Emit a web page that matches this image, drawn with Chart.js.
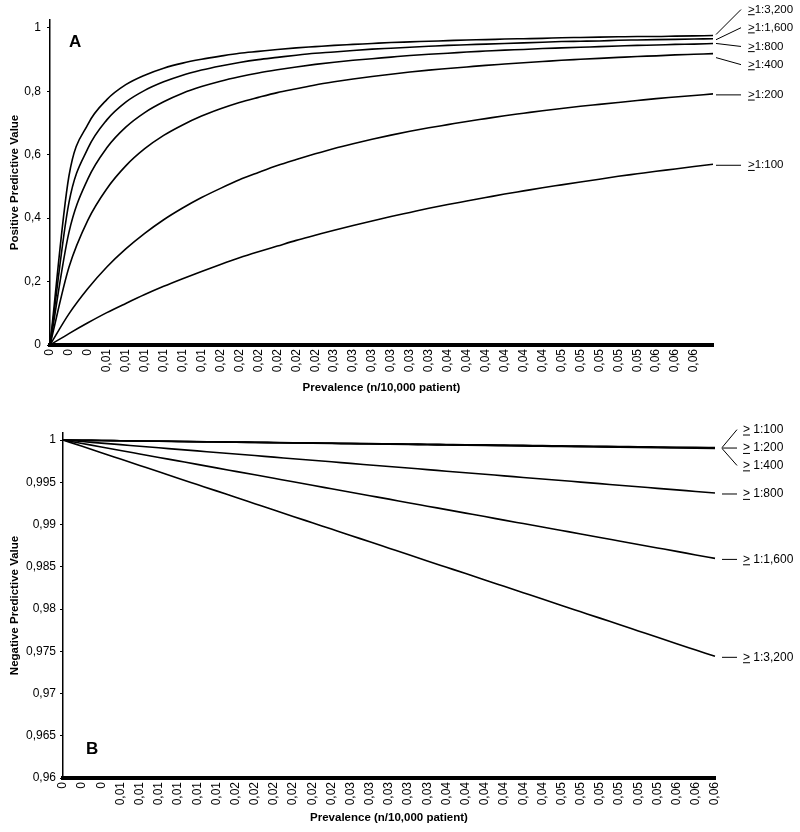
<!DOCTYPE html>
<html>
<head>
<meta charset="utf-8">
<script src="https://cdn.jsdelivr.net/npm/chart.js@4.4.1/dist/chart.umd.min.js"></script>
<style>
  body { margin: 0; background: #fff; }
  canvas { position: absolute; left: 0; }
  #chartA { top: 0; }
  #chartB { top: 400px; }
</style>
</head>
<body>
<canvas id="chartA" width="800" height="400"></canvas>
<canvas id="chartB" width="800" height="432"></canvas>
<script>
// prevalence categories, as printed under each axis
const prevLabelsA = ['0','0','0','0,01','0,01','0,01','0,01','0,01','0,01','0,02','0,02','0,02','0,02','0,02','0,02',
  '0,03','0,03','0,03','0,03','0,03','0,03','0,04','0,04','0,04','0,04','0,04','0,04','0,05','0,05','0,05','0,05','0,05',
  '0,06','0,06','0,06',''];
const prevLabelsB = ['0','0','0','0,01','0,01','0,01','0,01','0,01','0,01','0,02','0,02','0,02','0,02','0,02','0,02',
  '0,03','0,03','0,03','0,03','0,03','0,04','0,04','0,04','0,04','0,04','0,04','0,05','0,05','0,05','0,05','0,05','0,05',
  '0,06','0,06','0,06'];

const ppvTicks = [0, 0.2, 0.4, 0.6, 0.8, 1];
const npvTicks = [0.96, 0.965, 0.97, 0.975, 0.98, 0.985, 0.99, 0.995, 1];

const ppvNames = ['≥1:3,200', '≥1:1,600', '≥1:800', '≥1:400', '≥1:200', '≥1:100'];
const npvNames = ['≥ 1:100', '≥ 1:200', '≥ 1:400', '≥ 1:800', '≥ 1:1,600', '≥ 1:3,200'];

// A: positive predictive value
const ppv3200 = [0, 0.533, 0.696, 0.774, 0.821, 0.851, 0.873, 0.889, 0.901, 0.911, 0.920, 0.926, 0.932, 0.937, 0.941, 0.945, 0.948, 0.951,
  0.954, 0.956, 0.958, 0.960, 0.962, 0.963, 0.965, 0.966, 0.967, 0.969, 0.970, 0.971, 0.972, 0.973, 0.973, 0.974, 0.975, 0.976];
const ppv1600 = [0, 0.449, 0.620, 0.710, 0.766, 0.803, 0.830, 0.851, 0.867, 0.880, 0.891, 0.900, 0.907, 0.914, 0.920, 0.924, 0.929, 0.933,
  0.936, 0.939, 0.942, 0.945, 0.947, 0.949, 0.951, 0.953, 0.955, 0.957, 0.958, 0.959, 0.961, 0.962, 0.963, 0.964, 0.965, 0.966];
const ppv800 = [0, 0.355, 0.524, 0.622, 0.687, 0.733, 0.767, 0.794, 0.815, 0.832, 0.846, 0.858, 0.868, 0.877, 0.885, 0.892, 0.898, 0.903,
  0.908, 0.913, 0.917, 0.920, 0.924, 0.927, 0.930, 0.932, 0.935, 0.937, 0.939, 0.941, 0.943, 0.945, 0.946, 0.948, 0.949, 0.951];
const ppv400 = [0, 0.245, 0.394, 0.493, 0.565, 0.619, 0.661, 0.694, 0.722, 0.745, 0.765, 0.781, 0.796, 0.808, 0.820, 0.830, 0.839, 0.847,
  0.854, 0.861, 0.867, 0.872, 0.877, 0.882, 0.886, 0.890, 0.894, 0.898, 0.901, 0.904, 0.907, 0.910, 0.912, 0.915, 0.917, 0.919];
const ppv200 = [0, 0.098, 0.178, 0.246, 0.303, 0.352, 0.395, 0.432, 0.465, 0.494, 0.521, 0.544, 0.566, 0.585, 0.603, 0.620, 0.635, 0.649,
  0.662, 0.674, 0.685, 0.695, 0.705, 0.714, 0.723, 0.731, 0.739, 0.746, 0.753, 0.759, 0.765, 0.771, 0.777, 0.782, 0.787, 0.792];
const ppv100 = [0, 0.036, 0.070, 0.102, 0.131, 0.159, 0.185, 0.209, 0.232, 0.254, 0.275, 0.294, 0.312, 0.330, 0.346, 0.362, 0.377, 0.391,
  0.405, 0.418, 0.431, 0.443, 0.454, 0.465, 0.476, 0.486, 0.496, 0.505, 0.514, 0.523, 0.532, 0.540, 0.548, 0.555, 0.563, 0.570];

// B: negative predictive value
const npv100 = [1, 0.99997, 0.99995, 0.99992, 0.99989, 0.99987, 0.99984, 0.99981, 0.99979, 0.99976, 0.99974, 0.99971, 0.99968, 0.99966,
  0.99963, 0.99960, 0.99958, 0.99955, 0.99952, 0.99950, 0.99947, 0.99944, 0.99942, 0.99939, 0.99936, 0.99934, 0.99931, 0.99929,
  0.99926, 0.99923, 0.99921, 0.99918, 0.99915, 0.99913, 0.99910];
const npv200 = [1, 0.99997, 0.99994, 0.99992, 0.99989, 0.99986, 0.99983, 0.99980, 0.99978, 0.99975, 0.99972, 0.99969, 0.99966, 0.99964,
  0.99961, 0.99958, 0.99955, 0.99953, 0.99950, 0.99947, 0.99944, 0.99941, 0.99939, 0.99936, 0.99933, 0.99930, 0.99927, 0.99925,
  0.99922, 0.99919, 0.99916, 0.99914, 0.99911, 0.99908, 0.99905];
const npv400 = [1, 0.99997, 0.99994, 0.99991, 0.99988, 0.99985, 0.99982, 0.99979, 0.99976, 0.99974, 0.99971, 0.99968, 0.99965, 0.99962,
  0.99959, 0.99956, 0.99953, 0.99950, 0.99947, 0.99944, 0.99941, 0.99938, 0.99935, 0.99932, 0.99929, 0.99926, 0.99924, 0.99921,
  0.99918, 0.99915, 0.99912, 0.99909, 0.99906, 0.99903, 0.99900];
const npv800 = [1, 0.99982, 0.99963, 0.99945, 0.99926, 0.99908, 0.99889, 0.99871, 0.99852, 0.99834, 0.99816, 0.99797, 0.99779, 0.99760,
  0.99742, 0.99723, 0.99705, 0.99687, 0.99668, 0.99650, 0.99631, 0.99613, 0.99594, 0.99576, 0.99557, 0.99539, 0.99521, 0.99502,
  0.99484, 0.99465, 0.99447, 0.99428, 0.99410, 0.99391, 0.99373];
const npv1600 = [1, 0.99959, 0.99918, 0.99876, 0.99835, 0.99794, 0.99753, 0.99712, 0.99670, 0.99629, 0.99588, 0.99547, 0.99506, 0.99464,
  0.99423, 0.99382, 0.99341, 0.99300, 0.99258, 0.99217, 0.99176, 0.99135, 0.99094, 0.99052, 0.99011, 0.98970, 0.98929, 0.98888,
  0.98846, 0.98805, 0.98764, 0.98723, 0.98682, 0.98640, 0.98599];
const npv3200 = [1, 0.99925, 0.99849, 0.99774, 0.99699, 0.99624, 0.99548, 0.99473, 0.99398, 0.99322, 0.99247, 0.99172, 0.99096, 0.99021,
  0.98946, 0.98871, 0.98795, 0.98720, 0.98645, 0.98569, 0.98494, 0.98419, 0.98343, 0.98268, 0.98193, 0.98118, 0.98042, 0.97967,
  0.97892, 0.97816, 0.97741, 0.97666, 0.97590, 0.97515, 0.97440];

const FONT = 'Liberation Sans, Arial, sans-serif';
const comma = v => String(v).replace('.', ',');

// leader line + label at the right end of each curve; ">" underlined stands for the ≥ sign.
// settings kept in a closure so Chart.js doesn't proxy them
function endLabels(set) {
  return {
    id: 'endLabels',
    afterDatasetsDraw(chart) {
      const ctx = chart.ctx;
      ctx.save();
      ctx.strokeStyle = '#000';
      ctx.fillStyle = '#000';
      ctx.lineWidth = 1;
      ctx.font = set.size + 'px ' + FONT;
      ctx.textBaseline = 'middle';
      set.items.forEach((it, i) => {
        const pts = chart.getDatasetMeta(i).data;
        const end = pts[pts.length - 1];
        const ty = end.y + it.dy;
        const x0 = end.x + set.gap;
        const y0 = it.flat ? ty : end.y + (it.sdy || 0);
        ctx.beginPath();
        ctx.moveTo(x0, y0);
        ctx.lineTo(x0 + set.len, ty);
        ctx.stroke();
        const tx = x0 + set.len + set.textGap;
        const rest = chart.data.datasets[i].label.replace('≥', '');
        ctx.fillText('>', tx, ty);
        const w = ctx.measureText('>').width;
        ctx.beginPath();
        ctx.moveTo(tx, ty + set.size * 0.45);
        ctx.lineTo(tx + w, ty + set.size * 0.45);
        ctx.stroke();
        ctx.fillText(rest, tx + w, ty);
      });
      ctx.restore();
    }
  };
}

function panelLetter(text, dx, dy) {
  return {
    id: 'panelLetter',
    afterDraw(chart) {
      const ctx = chart.ctx;
      ctx.save();
      ctx.fillStyle = '#000';
      ctx.font = 'bold 17px ' + FONT;
      ctx.fillText(text, chart.chartArea.left + dx, chart.chartArea.top + dy);
      ctx.restore();
    }
  };
}

function lineSet(label, data) {
  return { label, data, borderColor: '#000', borderWidth: 1.6, pointRadius: 0, fill: false, cubicInterpolationMode: 'monotone' };
}

function makeChart(id, cfg) {
  return new Chart(document.getElementById(id), {
    type: 'line',
    data: { labels: cfg.labels, datasets: cfg.datasets },
    options: {
      responsive: false,
      animation: false,
      layout: { padding: cfg.padding },
      plugins: {
        legend: { display: false },
        tooltip: { enabled: false }
      },
      scales: {
        x: {
          offset: false,
          afterFit: s => { s.height = cfg.xHeight; },
          grid: { drawOnChartArea: false, drawTicks: false },
          border: { color: '#000', width: 4 },
          ticks: { autoSkip: false, maxRotation: 90, minRotation: 90, padding: 4, color: '#000', font: { family: FONT, size: 12 } },
          title: { display: true, text: 'Prevalence (n/10,000 patient)', color: '#000',
            font: { family: FONT, size: 11.5, weight: 'bold' }, padding: cfg.xTitlePad }
        },
        y: {
          min: cfg.yMin, max: cfg.yMax,
          afterBuildTicks: s => { s.ticks = cfg.yTicks.map(v => ({ value: v })); },
          afterFit: s => { s.width = cfg.yWidth; },
          grid: { drawOnChartArea: false, tickLength: 3, tickColor: '#000' },
          border: { color: '#000', width: 1.5 },
          ticks: { padding: cfg.yTickPad, color: '#000', font: { family: FONT, size: 12 }, callback: comma },
          title: { display: true, text: cfg.yTitle, color: '#000',
            font: { family: FONT, size: 11.5, weight: 'bold' }, padding: { top: 8, bottom: 0 } }
        }
      }
    },
    plugins: [endLabels(cfg.endLabels), panelLetter(cfg.letter.text, cfg.letter.dx, cfg.letter.dy)]
  });
}

makeChart('chartA', {
  labels: prevLabelsA,
  datasets: [
    lineSet(ppvNames[0], ppv3200), lineSet(ppvNames[1], ppv1600), lineSet(ppvNames[2], ppv800),
    lineSet(ppvNames[3], ppv400), lineSet(ppvNames[4], ppv200), lineSet(ppvNames[5], ppv100)
  ],
  padding: { top: 20, right: 87, left: 0, bottom: 0 },
  xHeight: 55, yWidth: 50, yTickPad: 6,
  xTitlePad: { top: 0, bottom: 5 },
  yMin: 0, yMax: 1.025, yTicks: ppvTicks,
  yTitle: 'Positive Predictive Value',
  letter: { text: 'A', dx: 19, dy: 27 },
  endLabels: {
    size: 11.5, gap: 3, len: 25, textGap: 7,
    items: [{ dy: -26, sdy: -1 }, { dy: -11, sdy: 1 }, { dy: 3, sdy: 0 }, { dy: 11, sdy: 4 }, { dy: 1, flat: true }, { dy: 1, flat: true }]
  }
});

makeChart('chartB', {
  labels: prevLabelsB,
  datasets: [
    lineSet(npvNames[0], npv100), lineSet(npvNames[1], npv200), lineSet(npvNames[2], npv400),
    lineSet(npvNames[3], npv800), lineSet(npvNames[4], npv1600), lineSet(npvNames[5], npv3200)
  ],
  padding: { top: 33, right: 85, left: 0, bottom: 0 },
  xHeight: 54, yWidth: 63, yTickPad: 4,
  xTitlePad: { top: 0, bottom: 7 },
  yMin: 0.96, yMax: 1.00083, yTicks: npvTicks,
  yTitle: 'Negative Predictive Value',
  letter: { text: 'B', dx: 23, dy: 321 },
  endLabels: {
    size: 12, gap: 7, len: 15, textGap: 6,
    items: [{ dy: -18 }, { dy: 0 }, { dy: 17 }, { dy: 1, flat: true }, { dy: 1, flat: true }, { dy: 1, flat: true }]
  }
});
</script>
</body>
</html>
